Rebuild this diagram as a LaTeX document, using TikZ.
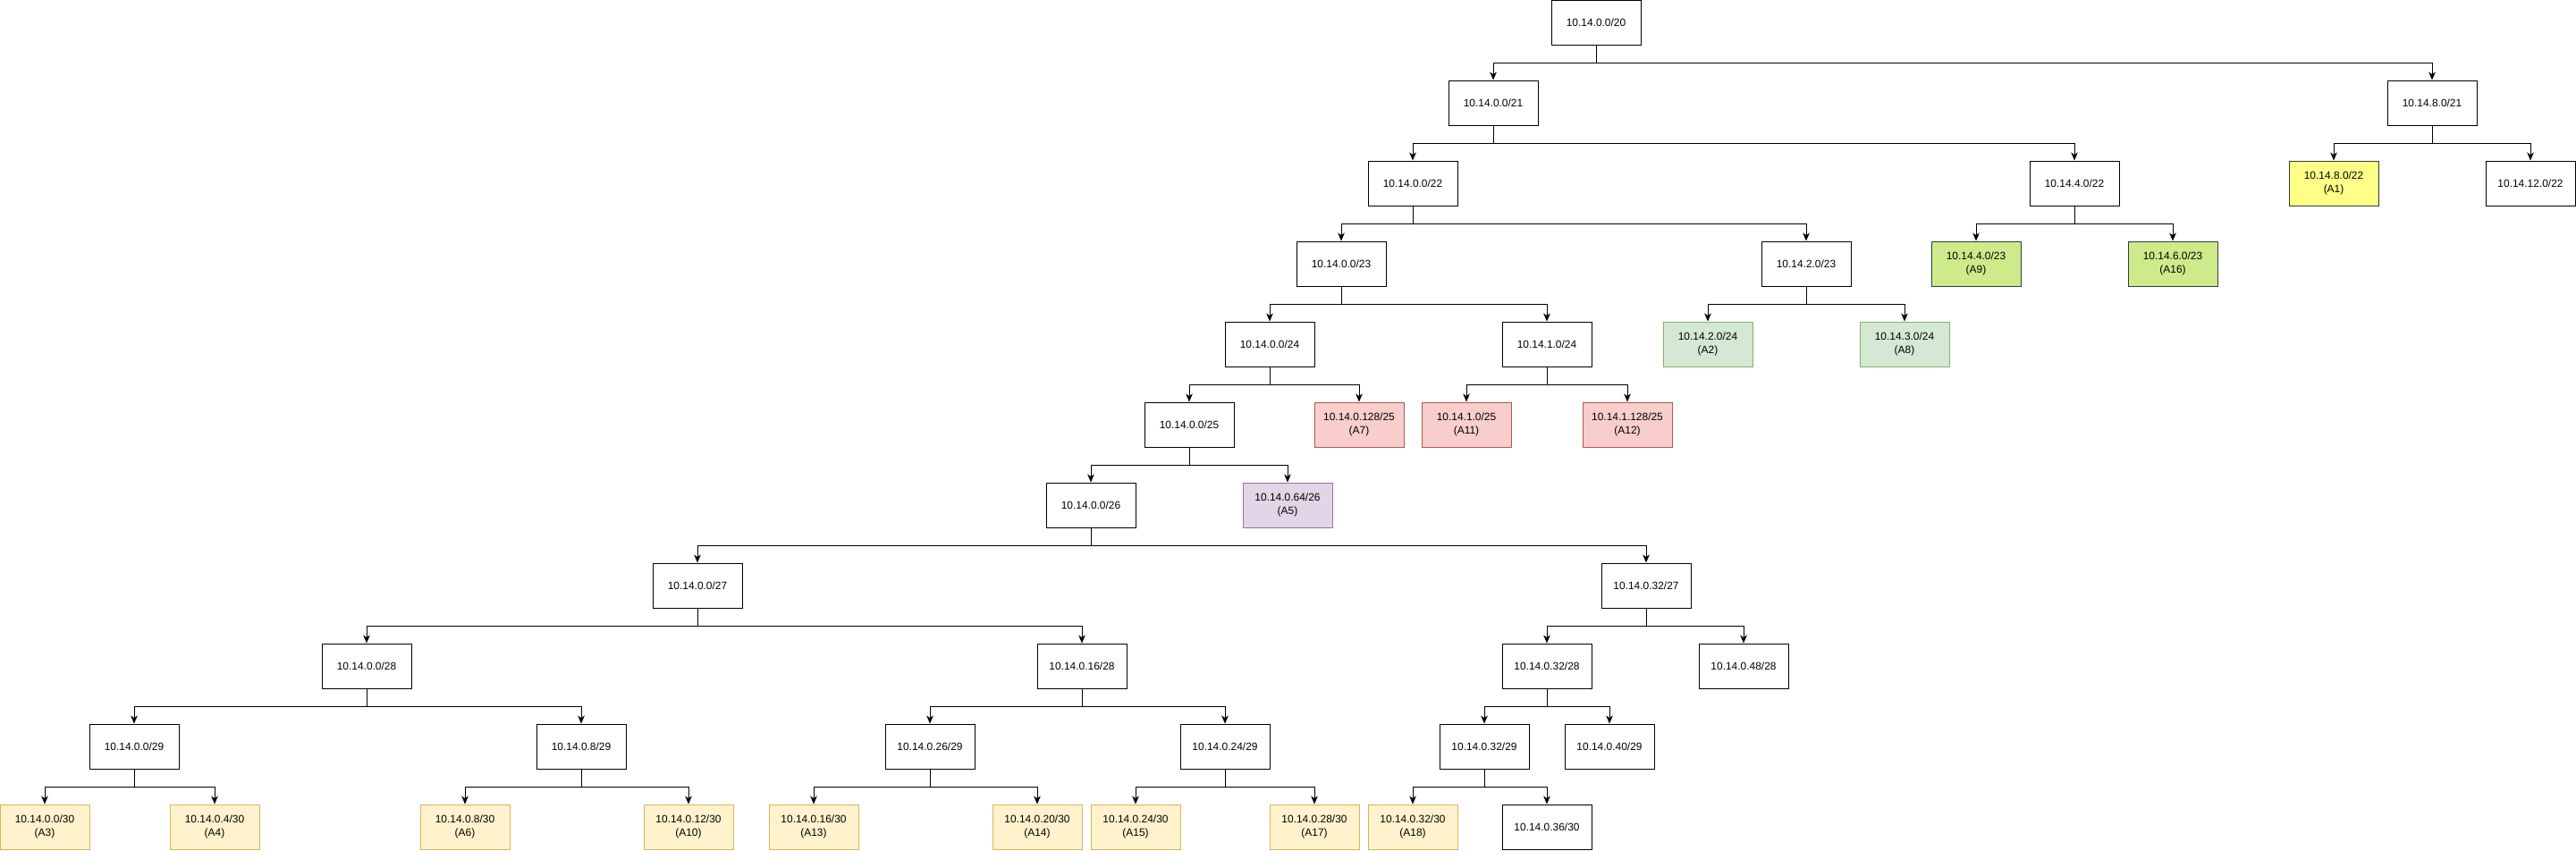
\documentclass[tikz,border=0pt]{standalone}
\usepackage{fontspec}
\setmainfont{Liberation Sans}
\usetikzlibrary{arrows.meta}
\definecolor{yelfill}{HTML}{FFFF88}
\definecolor{darkline}{HTML}{36393D}
\definecolor{limefill}{HTML}{CDEB8B}
\definecolor{grnfill}{HTML}{D5E8D4}
\definecolor{grnline}{HTML}{82B366}
\definecolor{redfill}{HTML}{F8CECC}
\definecolor{redline}{HTML}{B85450}
\definecolor{purfill}{HTML}{E1D5E7}
\definecolor{purline}{HTML}{9673A6}
\definecolor{orgfill}{HTML}{FFF2CC}
\definecolor{orgline}{HTML}{D6B656}
\begin{document}
\begin{tikzpicture}[
    box/.style={draw, line width=0.5pt, minimum width=2cm, minimum height=1cm, inner sep=0cm, align=center, font=\fontsize{6.8pt}{8.2pt}\selectfont},
    yelbox/.style={box, draw=darkline, fill=yelfill},
    limebox/.style={box, draw=darkline, fill=limefill},
    grnbox/.style={box, draw=grnline, fill=grnfill},
    redbox/.style={box, draw=redline, fill=redfill},
    purbox/.style={box, draw=purline, fill=purfill},
    orgbox/.style={box, draw=orgline, fill=orgfill},
    link/.style={-{Stealth[length=0.18cm, width=0.15cm, inset=0.05cm]}, line width=0.55pt}]
    \useasboundingbox (0cm,0cm) rectangle (57.62cm,-19.02cm);
    % level /20 and /21
    \node[box] at (35.7cm,-0.5cm) (N20) {10.14.0.0/20};
    \node[box] at (33.4cm,-2.3cm) (N21a) {10.14.0.0/21};
    \node[box] at (54.4cm,-2.3cm) (N21b) {10.14.8.0/21};
    % level /22
    \node[box] at (31.6cm,-4.1cm) (N22a) {10.14.0.0/22};
    \node[box] at (46.4cm,-4.1cm) (N22b) {10.14.4.0/22};
    \node[yelbox] at (52.2cm,-4.1cm) (A1) {10.14.8.0/22\\(A1)};
    \node[box] at (56.6cm,-4.1cm) (N22c) {10.14.12.0/22};
    % level /23
    \node[box] at (30.0cm,-5.9cm) (N23a) {10.14.0.0/23};
    \node[box] at (40.4cm,-5.9cm) (N23b) {10.14.2.0/23};
    \node[limebox] at (44.2cm,-5.9cm) (A9) {10.14.4.0/23\\(A9)};
    \node[limebox] at (48.6cm,-5.9cm) (A16) {10.14.6.0/23\\(A16)};
    % level /24
    \node[box] at (28.4cm,-7.7cm) (N24a) {10.14.0.0/24};
    \node[box] at (34.6cm,-7.7cm) (N24b) {10.14.1.0/24};
    \node[grnbox] at (38.2cm,-7.7cm) (A2) {10.14.2.0/24\\(A2)};
    \node[grnbox] at (42.6cm,-7.7cm) (A8) {10.14.3.0/24\\(A8)};
    % level /25
    \node[box] at (26.6cm,-9.5cm) (N25) {10.14.0.0/25};
    \node[redbox] at (30.4cm,-9.5cm) (A7) {10.14.0.128/25\\(A7)};
    \node[redbox] at (32.8cm,-9.5cm) (A11) {10.14.1.0/25\\(A11)};
    \node[redbox] at (36.4cm,-9.5cm) (A12) {10.14.1.128/25\\(A12)};
    % level /26
    \node[box] at (24.4cm,-11.3cm) (N26) {10.14.0.0/26};
    \node[purbox] at (28.8cm,-11.3cm) (A5) {10.14.0.64/26\\(A5)};
    % level /27
    \node[box] at (15.6cm,-13.1cm) (N27a) {10.14.0.0/27};
    \node[box] at (36.82cm,-13.1cm) (N27b) {10.14.0.32/27};
    % level /28
    \node[box] at (8.2cm,-14.9cm) (N28a) {10.14.0.0/28};
    \node[box] at (24.2cm,-14.9cm) (N28b) {10.14.0.16/28};
    \node[box] at (34.6cm,-14.9cm) (N28c) {10.14.0.32/28};
    \node[box] at (39.0cm,-14.9cm) (N28d) {10.14.0.48/28};
    % level /29
    \node[box] at (3.0cm,-16.7cm) (N29a) {10.14.0.0/29};
    \node[box] at (13.0cm,-16.7cm) (N29b) {10.14.0.8/29};
    \node[box] at (20.8cm,-16.7cm) (N29c) {10.14.0.26/29};
    \node[box] at (27.4cm,-16.7cm) (N29d) {10.14.0.24/29};
    \node[box] at (33.2cm,-16.7cm) (N29e) {10.14.0.32/29};
    \node[box] at (36.0cm,-16.7cm) (N29f) {10.14.0.40/29};
    % level /30
    \node[orgbox] at (1.0cm,-18.5cm) (A3) {10.14.0.0/30\\(A3)};
    \node[orgbox] at (4.8cm,-18.5cm) (A4) {10.14.0.4/30\\(A4)};
    \node[orgbox] at (10.4cm,-18.5cm) (A6) {10.14.0.8/30\\(A6)};
    \node[orgbox] at (15.4cm,-18.5cm) (A10) {10.14.0.12/30\\(A10)};
    \node[orgbox] at (18.2cm,-18.5cm) (A13) {10.14.0.16/30\\(A13)};
    \node[orgbox] at (23.2cm,-18.5cm) (A14) {10.14.0.20/30\\(A14)};
    \node[orgbox] at (25.4cm,-18.5cm) (A15) {10.14.0.24/30\\(A15)};
    \node[orgbox] at (29.4cm,-18.5cm) (A17) {10.14.0.28/30\\(A17)};
    \node[orgbox] at (31.6cm,-18.5cm) (A18) {10.14.0.32/30\\(A18)};
    \node[box] at (34.6cm,-18.5cm) (N30) {10.14.0.36/30};
    % links
    \draw[link] (N20.south) -- ++(0,-0.4cm) -| (N21a.north);
    \draw[link] (N20.south) -- ++(0,-0.4cm) -| (N21b.north);
    \draw[link] (N21a.south) -- ++(0,-0.4cm) -| (N22a.north);
    \draw[link] (N21a.south) -- ++(0,-0.4cm) -| (N22b.north);
    \draw[link] (N21b.south) -- ++(0,-0.4cm) -| (A1.north);
    \draw[link] (N21b.south) -- ++(0,-0.4cm) -| (N22c.north);
    \draw[link] (N22a.south) -- ++(0,-0.4cm) -| (N23a.north);
    \draw[link] (N22a.south) -- ++(0,-0.4cm) -| (N23b.north);
    \draw[link] (N22b.south) -- ++(0,-0.4cm) -| (A9.north);
    \draw[link] (N22b.south) -- ++(0,-0.4cm) -| (A16.north);
    \draw[link] (N23a.south) -- ++(0,-0.4cm) -| (N24a.north);
    \draw[link] (N23a.south) -- ++(0,-0.4cm) -| (N24b.north);
    \draw[link] (N23b.south) -- ++(0,-0.4cm) -| (A2.north);
    \draw[link] (N23b.south) -- ++(0,-0.4cm) -| (A8.north);
    \draw[link] (N24a.south) -- ++(0,-0.4cm) -| (N25.north);
    \draw[link] (N24a.south) -- ++(0,-0.4cm) -| (A7.north);
    \draw[link] (N24b.south) -- ++(0,-0.4cm) -| (A11.north);
    \draw[link] (N24b.south) -- ++(0,-0.4cm) -| (A12.north);
    \draw[link] (N25.south) -- ++(0,-0.4cm) -| (N26.north);
    \draw[link] (N25.south) -- ++(0,-0.4cm) -| (A5.north);
    \draw[link] (N26.south) -- ++(0,-0.4cm) -| (N27a.north);
    \draw[link] (N26.south) -- ++(0,-0.4cm) -| (N27b.north);
    \draw[link] (N27a.south) -- ++(0,-0.4cm) -| (N28a.north);
    \draw[link] (N27a.south) -- ++(0,-0.4cm) -| (N28b.north);
    \draw[link] (N27b.south) -- ++(0,-0.4cm) -| (N28c.north);
    \draw[link] (N27b.south) -- ++(0,-0.4cm) -| (N28d.north);
    \draw[link] (N28a.south) -- ++(0,-0.4cm) -| (N29a.north);
    \draw[link] (N28a.south) -- ++(0,-0.4cm) -| (N29b.north);
    \draw[link] (N28b.south) -- ++(0,-0.4cm) -| (N29c.north);
    \draw[link] (N28b.south) -- ++(0,-0.4cm) -| (N29d.north);
    \draw[link] (N28c.south) -- ++(0,-0.4cm) -| (N29e.north);
    \draw[link] (N28c.south) -- ++(0,-0.4cm) -| (N29f.north);
    \draw[link] (N29a.south) -- ++(0,-0.4cm) -| (A3.north);
    \draw[link] (N29a.south) -- ++(0,-0.4cm) -| (A4.north);
    \draw[link] (N29b.south) -- ++(0,-0.4cm) -| (A6.north);
    \draw[link] (N29b.south) -- ++(0,-0.4cm) -| (A10.north);
    \draw[link] (N29c.south) -- ++(0,-0.4cm) -| (A13.north);
    \draw[link] (N29c.south) -- ++(0,-0.4cm) -| (A14.north);
    \draw[link] (N29d.south) -- ++(0,-0.4cm) -| (A15.north);
    \draw[link] (N29d.south) -- ++(0,-0.4cm) -| (A17.north);
    \draw[link] (N29e.south) -- ++(0,-0.4cm) -| (A18.north);
    \draw[link] (N29e.south) -- ++(0,-0.4cm) -| (N30.north);
\end{tikzpicture}
\end{document}
